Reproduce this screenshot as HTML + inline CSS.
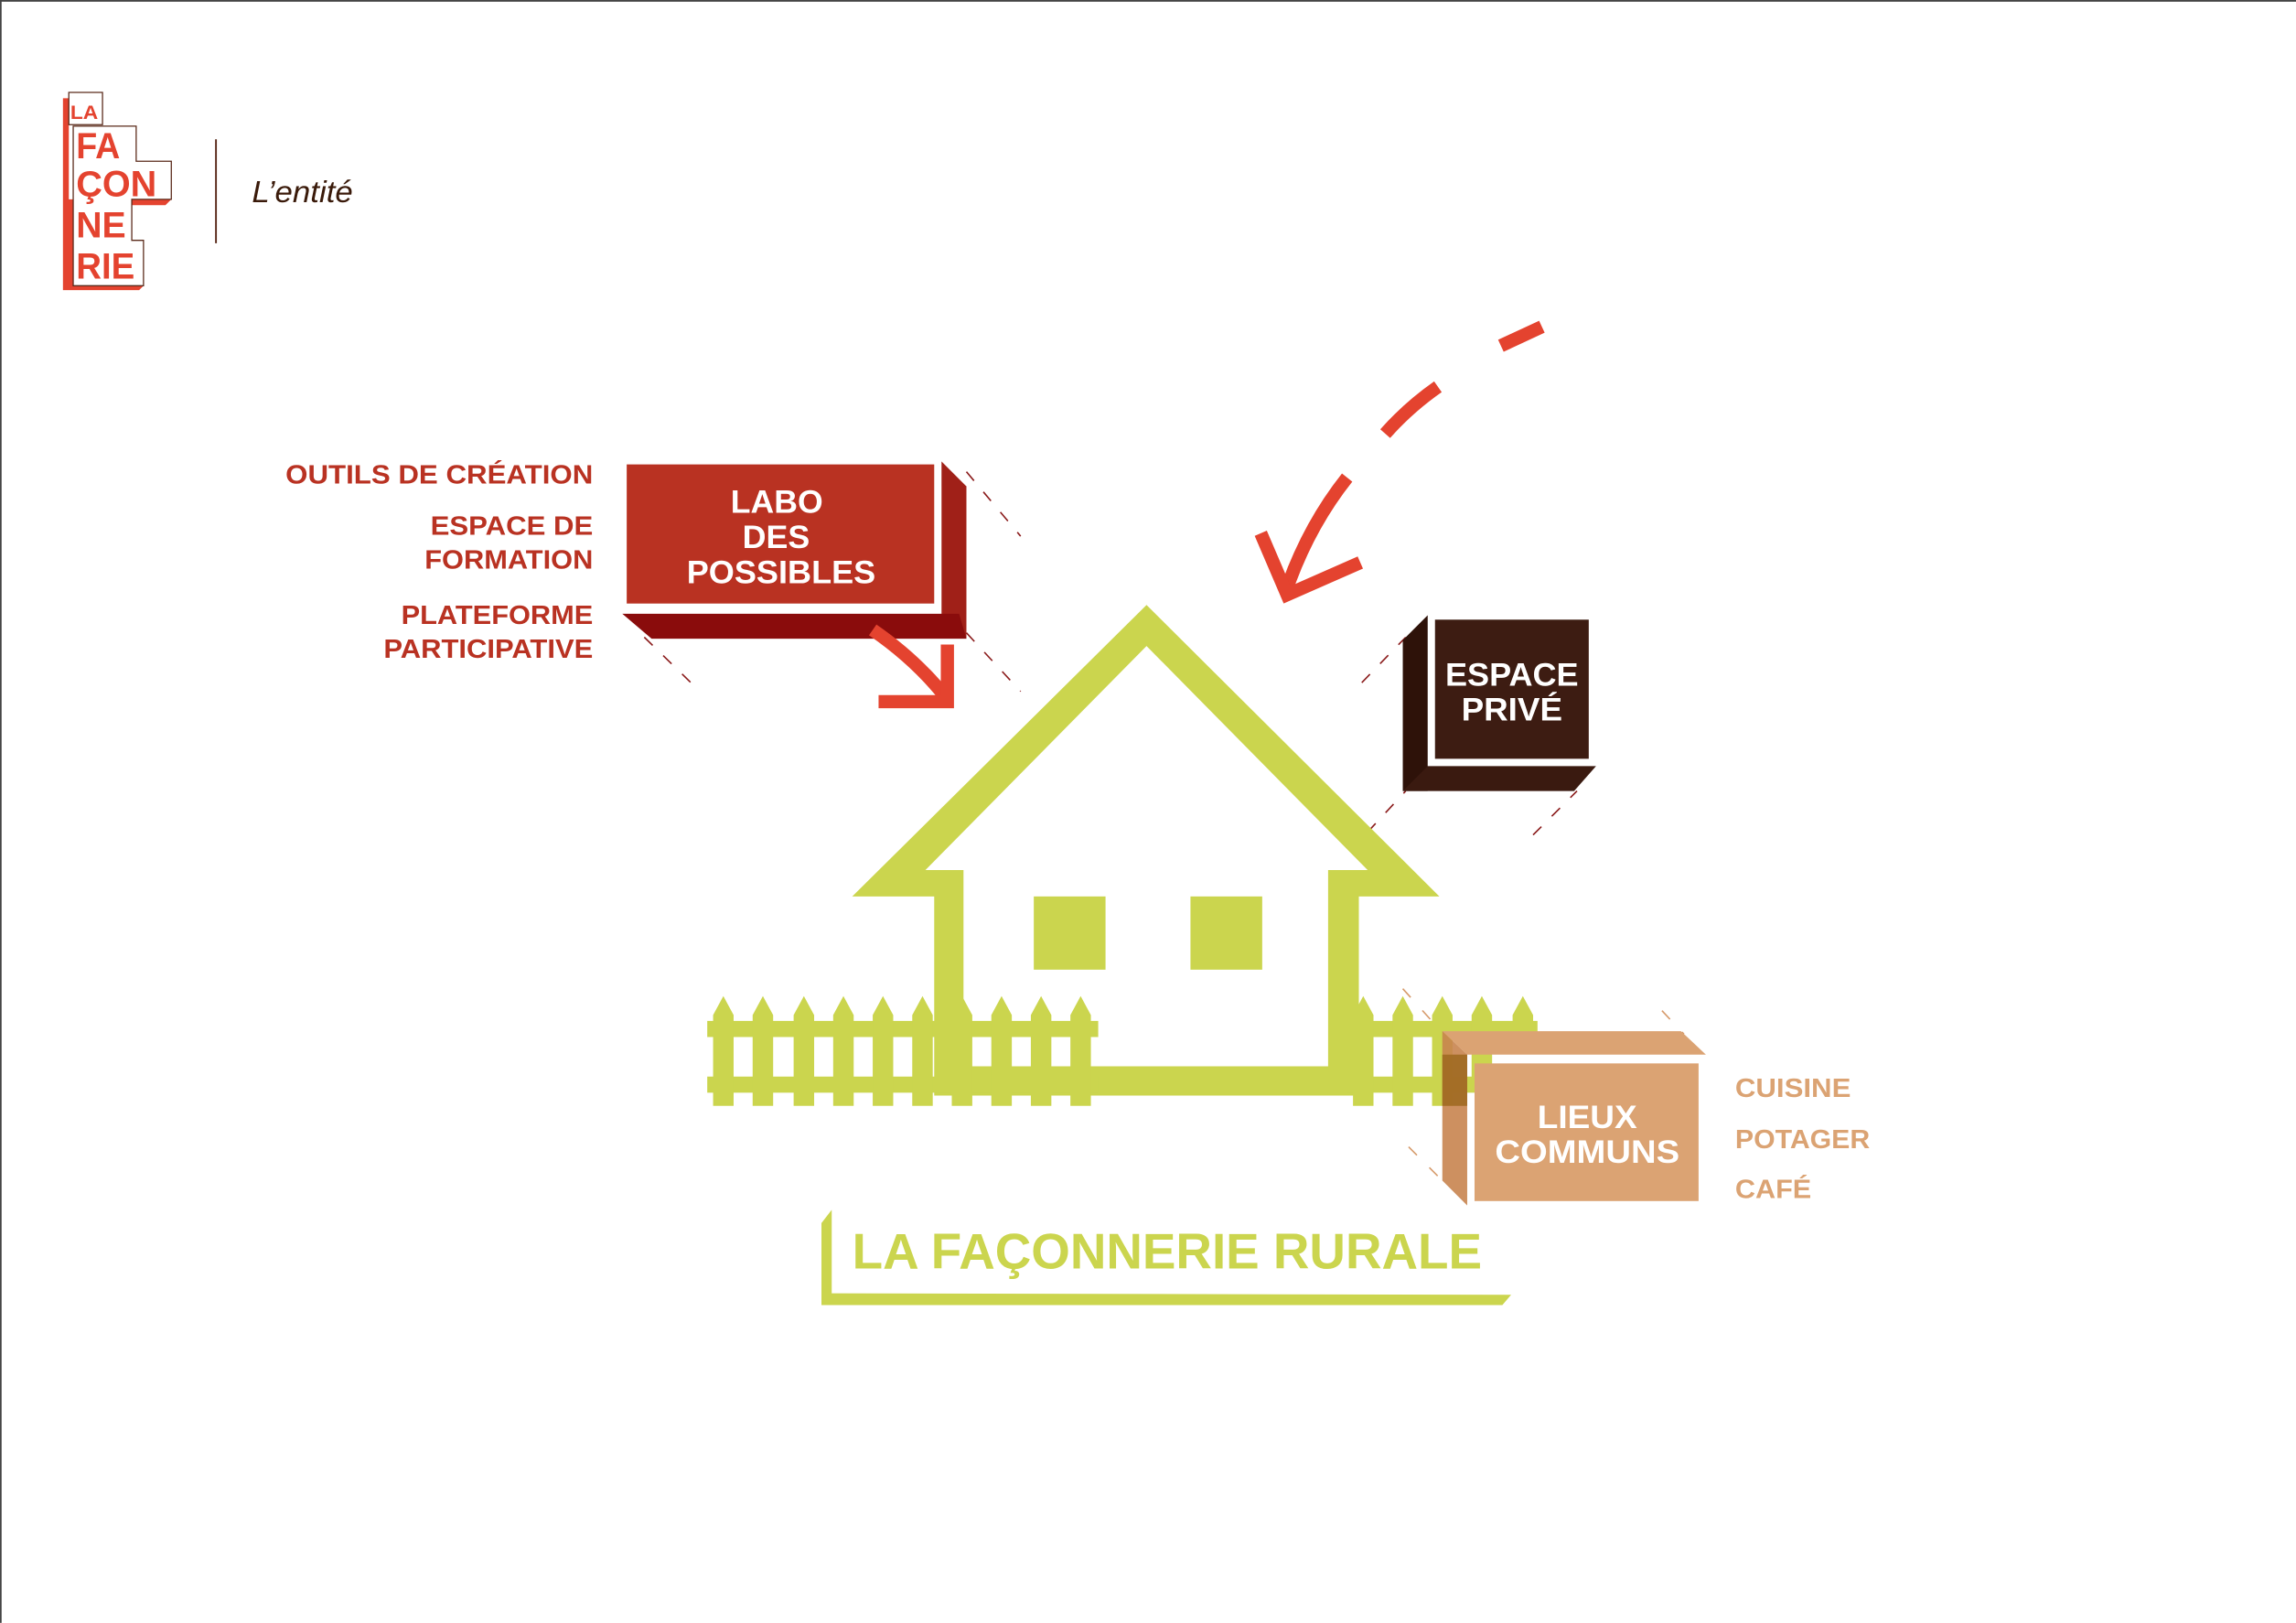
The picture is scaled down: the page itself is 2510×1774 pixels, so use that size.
<!DOCTYPE html>
<html><head><meta charset="utf-8"><style>
html,body{margin:0;padding:0;background:#fff}
svg{display:block}
text{font-family:"Liberation Sans",sans-serif}
</style></head><body>
<svg width="2510" height="1774" viewBox="0 0 1568 1108" xmlns="http://www.w3.org/2000/svg">
<rect x="0" y="0" width="1568" height="1108" fill="#fff"/>
<line x1="0" y1="0.5" x2="1568" y2="0.5" stroke="#444" stroke-width="1.2"/>
<line x1="0.5" y1="0" x2="0.5" y2="1108" stroke="#444" stroke-width="1.2"/>

<!-- logo -->
<polygon points="43,67 43,198 95,198 98,195 93,195 93,164 90,164 90,140 113,140 117,136 47,136 47,67" fill="#e4432f"/>
<polygon points="47,63 70,63 70,85 47,85" fill="#fff" stroke="#5a2a1a" stroke-width="0.8"/>
<polygon points="50,86 93,86 93,110 117,110 117,136 90,136 90,164 98,164 98,195 50,195" fill="#fff" stroke="#5a2a1a" stroke-width="0.8"/>
<g fill="#e4432f" font-weight="bold" lengthAdjust="spacingAndGlyphs">
<text x="48" y="81" font-size="13" textLength="19" lengthAdjust="spacingAndGlyphs">LA</text>
<text x="52" y="108" font-size="25" textLength="30" lengthAdjust="spacingAndGlyphs">FA</text>
<text x="52" y="134" font-size="25" textLength="55" lengthAdjust="spacingAndGlyphs">ÇON</text>
<text x="52" y="162" font-size="25" textLength="34" lengthAdjust="spacingAndGlyphs">NE</text>
<text x="52" y="190" font-size="25" textLength="40" lengthAdjust="spacingAndGlyphs">RIE</text>
</g>
<line x1="147.5" y1="95" x2="147.5" y2="166" stroke="#5a2a1a" stroke-width="1.2"/>
<text x="172" y="138" font-size="21" font-style="italic" fill="#3a1a0a" textLength="69" lengthAdjust="spacingAndGlyphs">L’entité</text>

<!-- dashed guide lines -->
<g stroke="#8a1a1a" stroke-width="1" stroke-dasharray="8,10" fill="none">
<line x1="660" y1="322" x2="697" y2="366"/>
<line x1="660" y1="432" x2="697" y2="472"/>
<line x1="440" y1="435" x2="478" y2="472"/>
<line x1="930" y1="466" x2="960" y2="435"/>
<line x1="934" y1="568" x2="960" y2="540"/>
<line x1="1047" y1="570" x2="1077" y2="540"/>
</g>
<g stroke="#d69a6a" stroke-width="1" stroke-dasharray="8,12" fill="none">
<line x1="958" y1="675" x2="985" y2="705"/>
<line x1="1135" y1="690" x2="1150" y2="706"/>
<line x1="962" y1="783" x2="985" y2="806"/>
</g>

<!-- Labo box -->
<polygon points="643,315 660,332 660,436 643,419" fill="#a02018"/>
<polygon points="425,419 655,419 660,436 445,436" fill="#8a0c0c"/>
<rect x="428" y="317" width="210" height="95" fill="#b93222"/>
<g fill="#fff" font-weight="bold" font-size="22">
<text x="499" y="350" textLength="63" lengthAdjust="spacingAndGlyphs">LABO</text>
<text x="507" y="374" textLength="46" lengthAdjust="spacingAndGlyphs">DES</text>
<text x="469" y="398" textLength="129" lengthAdjust="spacingAndGlyphs">POSSIBLES</text>
</g>
<g fill="#b93222" font-weight="bold" font-size="18">
<text x="195" y="330" textLength="210" lengthAdjust="spacingAndGlyphs">OUTILS DE CRÉATION</text>
<text x="294" y="365" textLength="111" lengthAdjust="spacingAndGlyphs">ESPACE DE</text>
<text x="290" y="388" textLength="115" lengthAdjust="spacingAndGlyphs">FORMATION</text>
<text x="274" y="426" textLength="131" lengthAdjust="spacingAndGlyphs">PLATEFORME</text>
<text x="262" y="449" textLength="143" lengthAdjust="spacingAndGlyphs">PARTICIPATIVE</text>
</g>
<!-- small red arrow -->
<g stroke="#e4432f" stroke-width="9" fill="none">
<path d="M596,430 Q625,450 645,475"/>
<polyline points="600,479 647,479 647,440"/>
</g>

<!-- big dashed arrow -->
<g stroke="#e4432f" stroke-width="9" fill="none">
<line x1="1025" y1="236" x2="1053" y2="223"/>
<path d="M946,296 Q962,278 982,264"/>
<path d="M878,404 Q893,360 920,326"/>
<polyline points="861,364 879,406 929,384"/>
</g>

<!-- house -->
<g fill="#cbd54e">
<path fill-rule="evenodd" d="M783,413 L983,612 L928,612 L928,748 L638,748 L638,612 L582,612 Z M783,441 L632,594 L658,594 L658,728 L907,728 L907,594 L934,594 Z"/>
<rect x="706" y="612" width="49" height="50"/>
<rect x="813" y="612" width="49" height="50"/>
<rect x="483" y="697" width="267" height="11"/>
<rect x="483" y="735" width="267" height="11"/>
<rect x="920" y="697" width="130" height="11"/>
<rect x="920" y="735" width="130" height="11"/>
</g>
<g fill="#cbd54e">
<polygon points="487,693 494,680 501,693 501,755 487,755"/>
<polygon points="514,693 521,680 528,693 528,755 514,755"/>
<polygon points="542,693 549,680 556,693 556,755 542,755"/>
<polygon points="569,693 576,680 583,693 583,755 569,755"/>
<polygon points="596,693 603,680 610,693 610,755 596,755"/>
<polygon points="623,693 630,680 637,693 637,755 623,755"/>
<polygon points="650,693 657,680 664,693 664,755 650,755"/>
<polygon points="677,693 684,680 691,693 691,755 677,755"/>
<polygon points="704,693 711,680 718,693 718,755 704,755"/>
<polygon points="731,693 738,680 745,693 745,755 731,755"/>
<polygon points="924,693 931,680 938,693 938,755 924,755"/>
<polygon points="951,693 958,680 965,693 965,755 951,755"/>
<polygon points="978,693 985,680 992,693 992,755 978,755"/>
<polygon points="1005,693 1012,680 1019,693 1019,740 1005,740"/>
<polygon points="1033,693 1040,680 1047,693 1047,705 1033,705"/>
</g>

<!-- Espace privé -->
<polygon points="958,437 975,420 975,540 958,540" fill="#2e1209"/>
<polygon points="958,540 975,523 1090,523 1075,540" fill="#3a1a10"/>
<rect x="980" y="423" width="105" height="95" fill="#3d1c12"/>
<g fill="#fff" font-weight="bold" font-size="22">
<text x="987" y="468" textLength="91" lengthAdjust="spacingAndGlyphs">ESPACE</text>
<text x="998" y="492" textLength="69" lengthAdjust="spacingAndGlyphs">PRIVÉ</text>
</g>

<!-- Lieux communs -->
<polygon points="985,704 1148,704 1165,720 1002,720" fill="#dba373"/>
<polygon points="985,704 1002,720 1002,823 985,806" fill="#c8844f" opacity="0.9"/>
<rect x="985" y="720" width="17" height="35" fill="#a06a22" opacity="0.9"/>
<rect x="1007" y="726" width="153" height="94" fill="#dba373"/>
<g fill="#fff" font-weight="bold" font-size="22">
<text x="1050" y="770" textLength="68" lengthAdjust="spacingAndGlyphs">LIEUX</text>
<text x="1021" y="794" textLength="126" lengthAdjust="spacingAndGlyphs">COMMUNS</text>
</g>
<g fill="#dba373" font-weight="bold" font-size="18">
<text x="1185" y="749" textLength="79" lengthAdjust="spacingAndGlyphs">CUISINE</text>
<text x="1185" y="784" textLength="92" lengthAdjust="spacingAndGlyphs">POTAGER</text>
<text x="1185" y="818" textLength="52" lengthAdjust="spacingAndGlyphs">CAFÉ</text>
</g>

<!-- title -->
<polygon points="561,835 568,826 568,883 1032,884 1026,891 561,891" fill="#cbd54e"/>
<text x="582" y="866" font-size="34" font-weight="bold" fill="#cbd54e" textLength="430" lengthAdjust="spacingAndGlyphs">LA FAÇONNERIE RURALE</text>
</svg>
</body></html>
